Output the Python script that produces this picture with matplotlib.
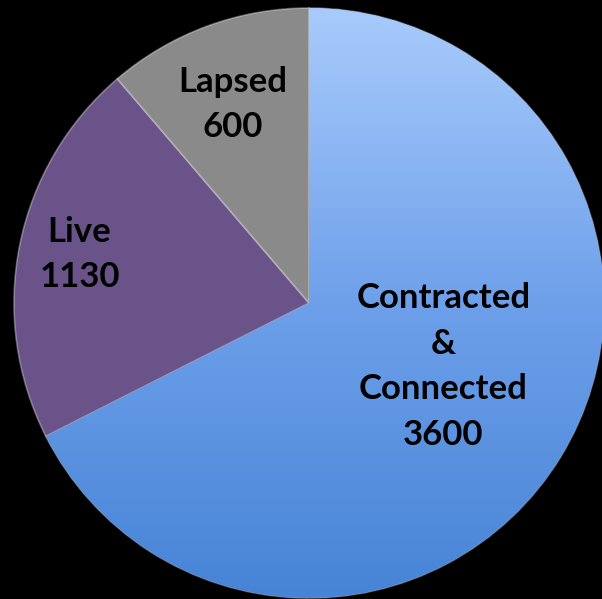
import numpy as np
import matplotlib
matplotlib.use("Agg")
import matplotlib.pyplot as plt
from matplotlib.colors import LinearSegmentedColormap

labels = ["Contracted\n&\nConnected", "Live", "Lapsed"]
values = [3600, 1130, 600]
colors = ["#7aa8ee", "#6a5388", "#8a8a8a"]
label_pos = [(0.455, -0.215), (-0.778, 0.165), (-0.26, 0.673)]

W, H = 602, 599
cx, cy, R = 309, 303, 295

fig = plt.figure(figsize=(W / 100, H / 100), dpi=100, facecolor="black")
ax = fig.add_axes([0, 0, 1, 1])
ax.set_facecolor("black")

wedges, _ = ax.pie(values, colors=colors, startangle=90, counterclock=False,
                   radius=1.0, wedgeprops=dict(edgecolor=(1, 1, 1, 0.35), linewidth=1.2))

ax.set_aspect("auto")

# vertical gradient on the large slice
cmap = LinearSegmentedColormap.from_list("blue", ["#4784d6", "#6ea0ea", "#a9cbfc"])
grad = np.linspace(0, 1, 256).reshape(-1, 1)
im = ax.imshow(grad, cmap=cmap, origin="lower", aspect="auto",
               extent=(-1, 1, -1, 1), zorder=wedges[0].get_zorder() + 0.1)
im.set_clip_path(wedges[0])
ax.set_xlim(-cx / R, (W - cx) / R)
ax.set_ylim(-(H - cy) / R, cy / R)
ax.axis("off")

for (x, y), lab, v in zip(label_pos, labels, values):
    ax.text(x, y, f"{lab}\n{v}", ha="center", va="center", fontsize=25,
            fontweight="bold", family="Lato", color="black", linespacing=1.52, zorder=10)

fig.savefig("out.png", dpi=100, facecolor="black")
